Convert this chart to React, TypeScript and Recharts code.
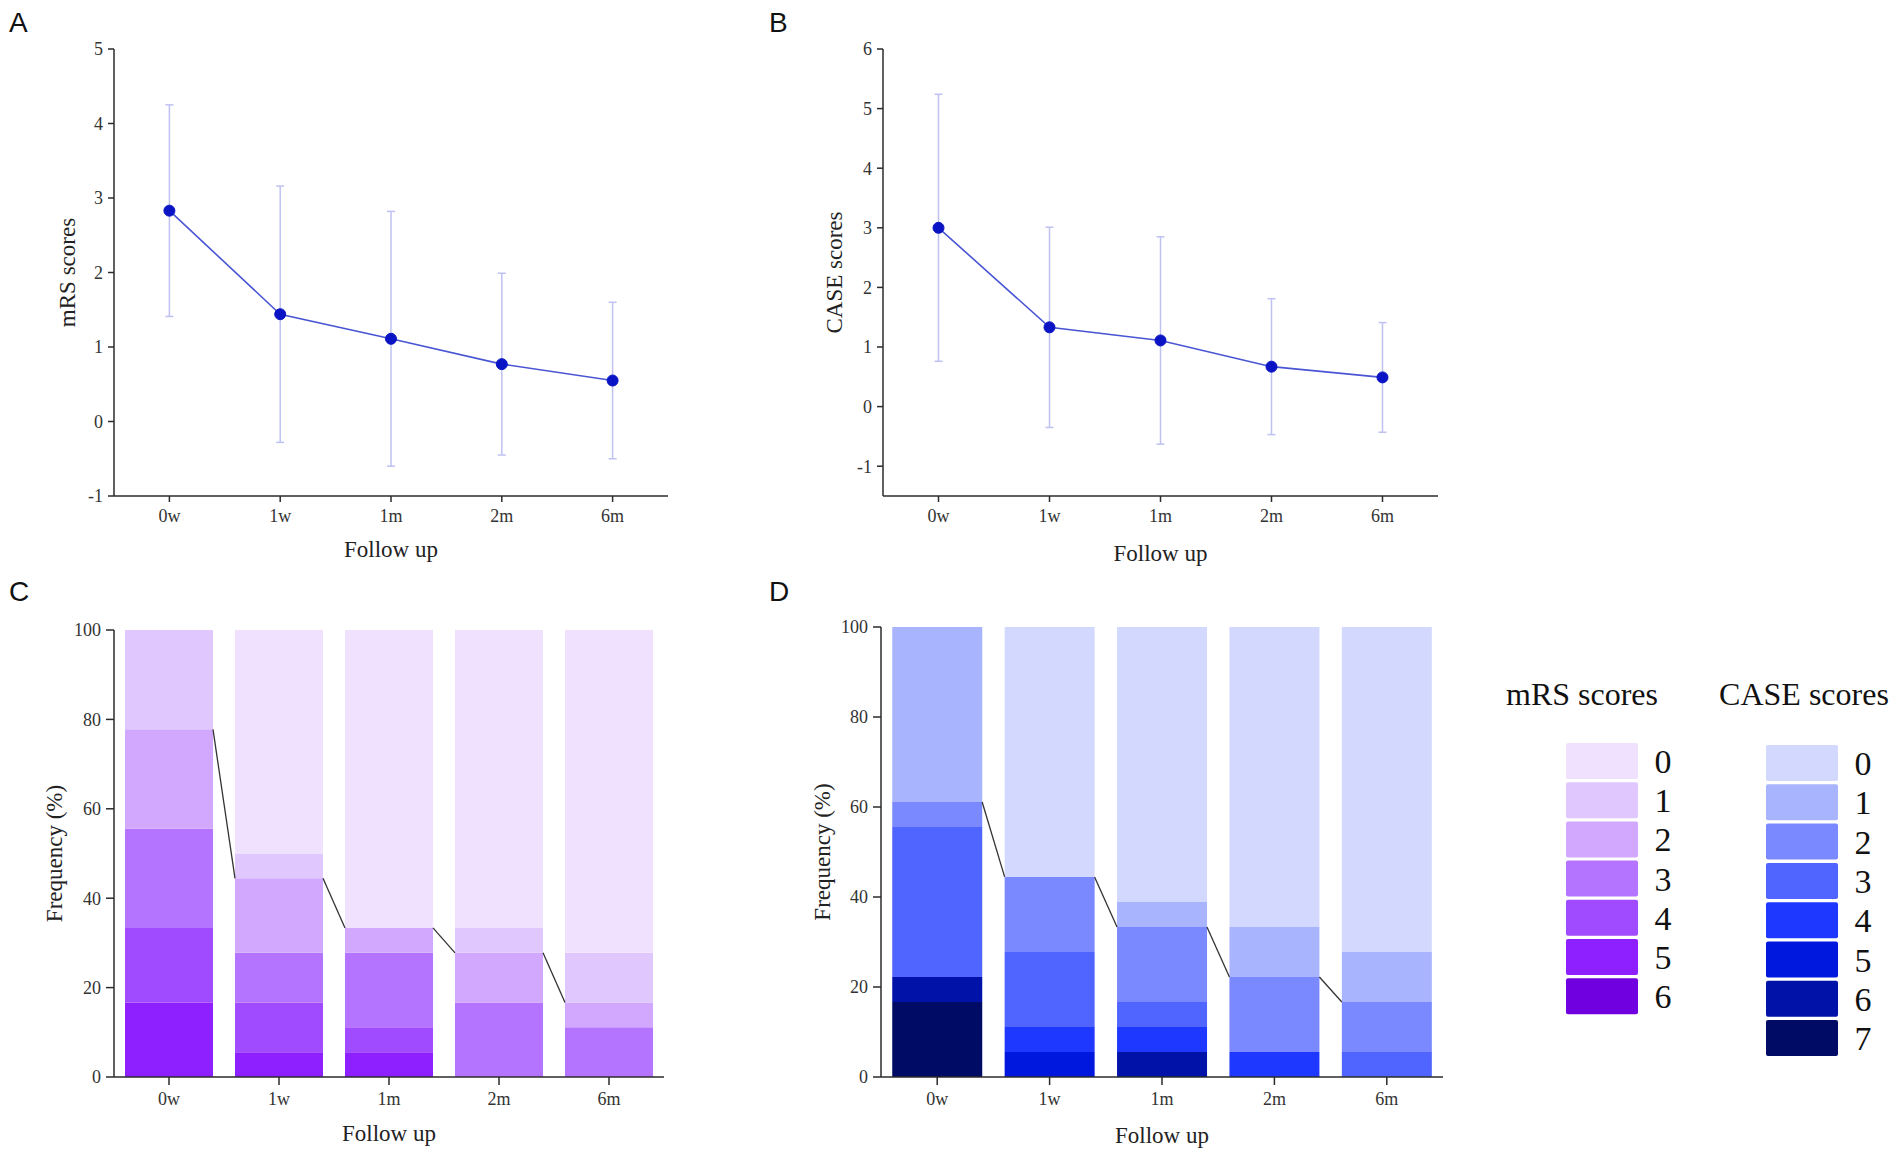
import {
  ComposedChart,
  Line,
  Bar,
  XAxis,
  YAxis,
  ErrorBar,
  ReferenceLine,
} from 'recharts';

const categories = ['0w', '1w', '1m', '2m', '6m'];

// panel A: mRS mean ± SD
const mrsMean = [2.83, 1.44, 1.11, 0.77, 0.55];
const mrsSd = [1.42, 1.72, 1.71, 1.22, 1.05];
const mrsTicks = [-1, 0, 1, 2, 3, 4, 5];

// panel B: CASE mean ± SD
const caseMean = [3.0, 1.33, 1.11, 0.67, 0.49];
const caseSd = [2.24, 1.68, 1.74, 1.14, 0.92];
const caseTicks = [-1, 0, 1, 2, 3, 4, 5, 6];

// panel C: mRS score distribution (%), one array per score
const mrs0 = [0, 50.0, 66.67, 66.67, 72.22];
const mrs1 = [22.22, 5.56, 0, 5.56, 11.11];
const mrs2 = [22.22, 16.67, 5.56, 11.11, 5.56];
const mrs3 = [22.22, 11.11, 16.67, 16.67, 11.11];
const mrs4 = [16.67, 11.11, 5.56, 0, 0];
const mrs5 = [16.67, 5.56, 5.56, 0, 0];
const mrs6 = [0, 0, 0, 0, 0];

// panel D: CASE score distribution (%)
const case0 = [0, 55.56, 61.11, 66.67, 72.22];
const case1 = [38.89, 0, 5.56, 11.11, 11.11];
const case2 = [5.56, 16.67, 16.67, 16.67, 11.11];
const case3 = [33.33, 16.67, 5.56, 0, 5.56];
const case4 = [0, 5.56, 5.56, 5.56, 0];
const case5 = [0, 5.56, 0, 0, 0];
const case6 = [5.56, 0, 5.56, 0, 0];
const case7 = [16.67, 0, 0, 0, 0];

const freqTicks = [0, 20, 40, 60, 80, 100];

const mrsColors = ['#F0E2FF', '#E0C8FF', '#D2A8FF', '#B574FF', '#A04BFF', '#8E1FFF', '#7000E0'];
const caseColors = ['#D3D8FF', '#A9B4FF', '#7A89FF', '#5064FF', '#1F38FF', '#0018DD', '#0012A8', '#000B66'];

const mrsShares = [mrs0, mrs1, mrs2, mrs3, mrs4, mrs5, mrs6];
const caseShares = [case0, case1, case2, case3, case4, case5, case6, case7];

const SERIF = "'Liberation Serif', 'Times New Roman', serif";
const SANS = "'Liberation Sans', Arial, sans-serif";
const AXIS = '#2b2b2b';
const TICK = { fill: '#333', fontSize: 18, fontFamily: SERIF };
const TITLE = { fill: '#222', fontSize: 23, fontFamily: SERIF };
const BAR_GAP = 0.1; // barCategoryGap on each side, in band units
const slotTicks = categories.map((_, i) => i).concat(categories.length);

const lineRows = (mean: number[], sd: number[]) =>
  categories.map((name, i) => ({ name, mean: mean[i], sd: sd[i] }));

const stackRows = (shares: number[][]) =>
  categories.map((name, i) => {
    const row: Record<string, any> = { name, slot: i + 0.5 };
    shares.forEach((arr, k) => {
      row['s' + k] = arr[i];
    });
    return row;
  });

// share of patients with score >= 2 (the connector lines)
const cumFrom2 = (shares: number[][], i: number) =>
  shares.slice(2).reduce((sum, arr) => sum + arr[i], 0);

function YTitle({ viewBox, text, gap }: any) {
  const cx = viewBox.x + viewBox.width - gap;
  const cy = viewBox.y + viewBox.height / 2;
  return (
    <text
      x={cx}
      y={cy}
      transform={`rotate(-90 ${cx} ${cy})`}
      textAnchor="middle"
      dominantBaseline="central"
      style={TITLE}
    >
      {text}
    </text>
  );
}

function XTitle({ viewBox, text, dy }: any) {
  return (
    <text
      x={viewBox.x + viewBox.width / 2}
      y={viewBox.y + dy}
      textAnchor="middle"
      dominantBaseline="central"
      style={TITLE}
    >
      {text}
    </text>
  );
}

interface MeanPanelProps {
  mean: number[];
  sd: number[];
  ticks: number[];
  domain: [number, number];
  title: string;
  margin: { top: number; right: number; bottom: number; left: number };
  titleGap: number;
  xTitleDy: number;
}

function MeanPanel({ mean, sd, ticks, domain, title, margin, titleGap, xTitleDy }: MeanPanelProps) {
  return (
    <ComposedChart width={700} height={580} data={lineRows(mean, sd)} margin={margin}>
      <XAxis
        dataKey="name"
        scale="band"
        height={60}
        stroke={AXIS}
        strokeWidth={1.5}
        tickSize={6}
        tickMargin={7}
        tick={TICK}
        label={(p: any) => <XTitle viewBox={p.viewBox} text="Follow up" dy={xTitleDy} />}
      />
      <YAxis
        width={60}
        domain={domain}
        ticks={ticks}
        allowDataOverflow
        stroke={AXIS}
        strokeWidth={1.5}
        tickSize={6}
        tickMargin={5}
        tick={TICK}
        label={(p: any) => <YTitle viewBox={p.viewBox} text={title} gap={titleGap} />}
      />
      <Line
        dataKey="mean"
        stroke="#4A55D4"
        strokeWidth={1.6}
        dot={{ r: 5.5, fill: '#0A14C4', stroke: '#0A14C4', strokeWidth: 1 }}
        isAnimationActive={false}
      >
        <ErrorBar dataKey="sd" width={4} stroke="#BEC2F2" strokeWidth={1.5} isAnimationActive={false} />
      </Line>
    </ComposedChart>
  );
}

interface StackPanelProps {
  shares: number[][];
  colors: string[];
  margin: { top: number; right: number; bottom: number; left: number };
  titleGap: number;
  xTitleDy: number;
}

function StackPanel({ shares, colors, margin, titleGap, xTitleDy }: StackPanelProps) {
  const order = shares.map((_, k) => k).reverse();
  return (
    <ComposedChart
      width={700}
      height={577}
      data={stackRows(shares)}
      margin={margin}
      barCategoryGap={`${BAR_GAP * 100}%`}
    >
      <XAxis
        dataKey="name"
        height={60}
        stroke={AXIS}
        strokeWidth={1.5}
        tickSize={8}
        tickMargin={7}
        tick={TICK}
        label={(p: any) => <XTitle viewBox={p.viewBox} text="Follow up" dy={xTitleDy} />}
      />
      <XAxis
        xAxisId="slot"
        dataKey="slot"
        type="number"
        domain={[0, categories.length]}
        ticks={slotTicks}
        allowDataOverflow
        hide
      />
      <YAxis
        width={60}
        domain={[0, 100]}
        ticks={freqTicks}
        allowDataOverflow
        stroke={AXIS}
        strokeWidth={1.5}
        tickSize={8}
        tickMargin={5}
        tick={TICK}
        label={(p: any) => <YTitle viewBox={p.viewBox} text="Frequency (%)" gap={titleGap} />}
      />
      {order.map((k) => (
        <Bar key={k} dataKey={'s' + k} stackId="a" fill={colors[k]} isAnimationActive={false} />
      ))}
      {categories.slice(0, -1).map((_, i) => (
        <ReferenceLine
          key={'c' + i}
          xAxisId="slot"
          ifOverflow="visible"
          stroke="#333"
          strokeWidth={1.3}
          segment={[
            { x: i + 1 - BAR_GAP, y: cumFrom2(shares, i) },
            { x: i + 1 + BAR_GAP, y: cumFrom2(shares, i + 1) },
          ]}
        />
      ))}
    </ComposedChart>
  );
}

function LegendBlock() {
  const fs = 34;
  return (
    <svg width={422} height={440} style={{ position: 'absolute', left: 1480, top: 640 }}>
      <text x={102} y={65} textAnchor="middle" style={{ fontFamily: SERIF, fontSize: 32, fill: '#111' }}>
        mRS scores
      </text>
      <text x={324} y={65} textAnchor="middle" style={{ fontFamily: SERIF, fontSize: 32, fill: '#111' }}>
        CASE scores
      </text>
      {mrsColors.map((c, i) => (
        <g key={'m' + i}>
          <rect x={86} y={103 + i * 39.2} width={72} height={36} rx={2} fill={c} />
          <text x={183} y={133 + i * 39.2} textAnchor="middle" style={{ fontFamily: SERIF, fontSize: fs, fill: '#111' }}>
            {i}
          </text>
        </g>
      ))}
      {caseColors.map((c, i) => (
        <g key={'c' + i}>
          <rect x={286} y={105 + i * 39.3} width={72} height={36} rx={2} fill={c} />
          <text x={383} y={135 + i * 39.3} textAnchor="middle" style={{ fontFamily: SERIF, fontSize: fs, fill: '#111' }}>
            {i}
          </text>
        </g>
      ))}
    </svg>
  );
}

const letterStyle = (left: number, top: number): React.CSSProperties => ({
  position: 'absolute',
  left,
  top,
  fontFamily: SANS,
  fontSize: 28,
  lineHeight: '28px',
  color: '#111',
});

export default function App() {
  return (
    <div style={{ position: 'relative', width: 1902, height: 1157, background: '#fff', overflow: 'hidden' }}>
      <style>{'body{margin:0}'}</style>

      <div style={letterStyle(9, 9)}>A</div>
      <div style={letterStyle(769, 9)}>B</div>
      <div style={letterStyle(9, 578)}>C</div>
      <div style={letterStyle(769, 578)}>D</div>

      <div style={{ position: 'absolute', left: 0, top: 0 }}>
        <MeanPanel
          mean={mrsMean}
          sd={mrsSd}
          ticks={mrsTicks}
          domain={[-1, 5]}
          title="mRS scores"
          margin={{ top: 49, right: 32, bottom: 24, left: 54 }}
          titleGap={47}
          xTitleDy={53}
        />
      </div>

      <div style={{ position: 'absolute', left: 760, top: 0 }}>
        <MeanPanel
          mean={caseMean}
          sd={caseSd}
          ticks={caseTicks}
          domain={[-1.5, 6]}
          title="CASE scores"
          margin={{ top: 49, right: 22, bottom: 24, left: 63 }}
          titleGap={49}
          xTitleDy={57}
        />
      </div>

      <div style={{ position: 'absolute', left: 0, top: 580 }}>
        <StackPanel
          shares={mrsShares}
          colors={mrsColors}
          margin={{ top: 50, right: 36, bottom: 20, left: 54 }}
          titleGap={60}
          xTitleDy={56}
        />
      </div>

      <div style={{ position: 'absolute', left: 760, top: 580 }}>
        <StackPanel
          shares={caseShares}
          colors={caseColors}
          margin={{ top: 47, right: 17, bottom: 20, left: 61 }}
          titleGap={59}
          xTitleDy={58}
        />
      </div>

      <LegendBlock />
    </div>
  );
}
